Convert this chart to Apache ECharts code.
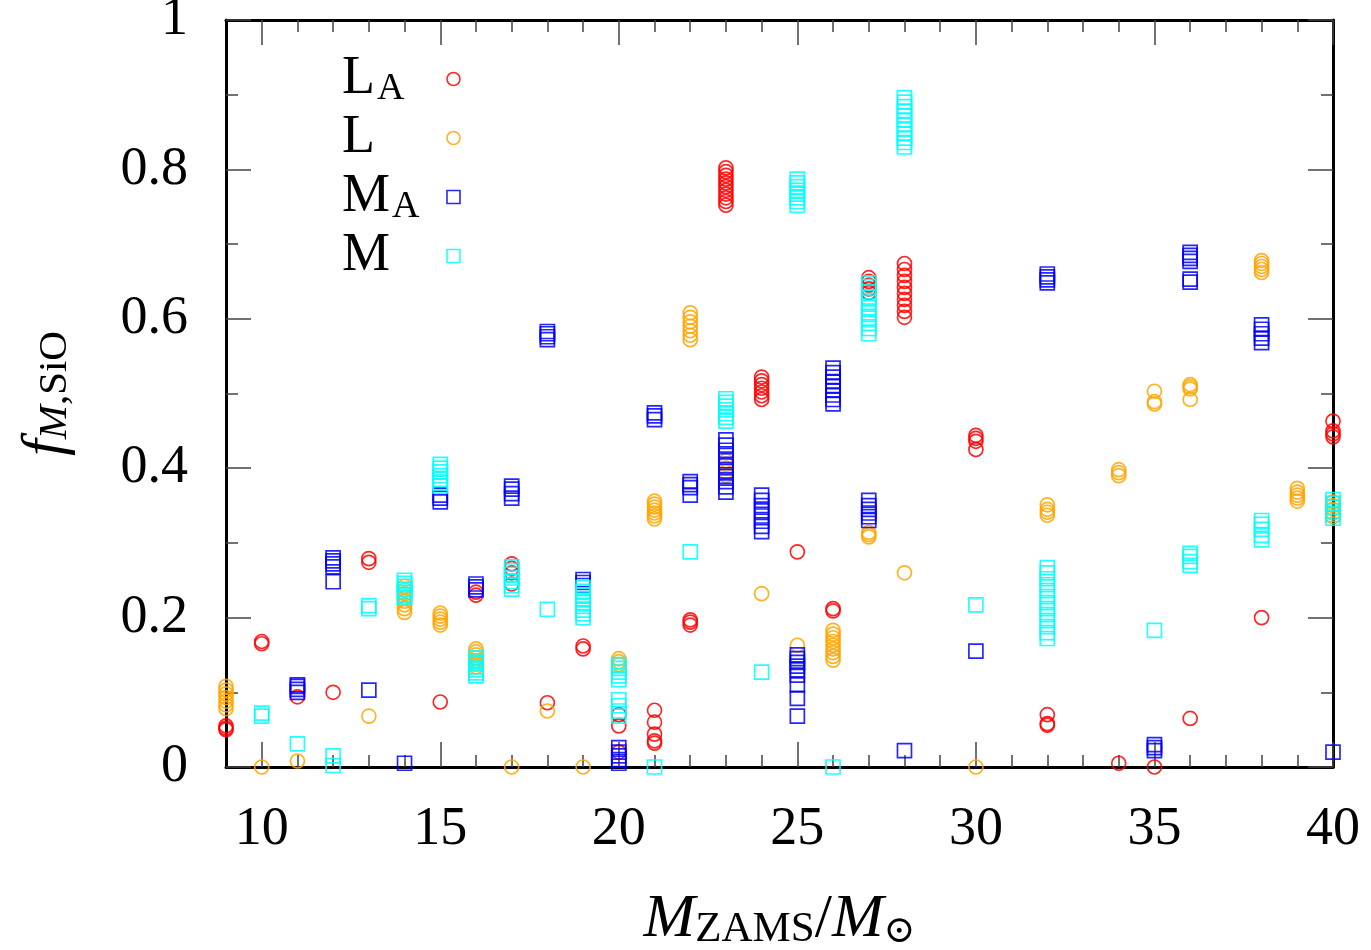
<!DOCTYPE html>
<html><head><meta charset="utf-8">
<script src="https://cdn.jsdelivr.net/npm/echarts@6/dist/echarts.min.js"></script>
<style>html,body{margin:0;padding:0;background:#fff}#c{width:1371px;height:950px}</style>
</head><body><div id="c"></div>
<script>
// Series values: [M_ZAMS, f_M,SiO]
const seriesLA = [
 [9,0.05],[9,0.052],[9,0.055],[10,0.165],[10,0.168],[11,0.094],[12,0.1],[13,0.274],[13,0.279],[15,0.087],
 [16,0.23],[16,0.234],[17,0.245],[17,0.26],[17,0.266],[17,0.272],[18,0.086],[19,0.158],[19,0.162],
 [20,0.02],[20,0.055],[20,0.07],[21,0.032],[21,0.035],[21,0.044],[21,0.06],[21,0.076],
 [22,0.19],[22,0.194],[22,0.197],
 [23,0.752],[23,0.757],[23,0.762],[23,0.767],[23,0.772],[23,0.777],[23,0.782],[23,0.787],[23,0.792],[23,0.797],[23,0.802],
 [24,0.492],[24,0.497],[24,0.502],[24,0.507],[24,0.512],[24,0.517],[24,0.522],
 [25,0.288],[26,0.209],[26,0.212],
 [27,0.635],[27,0.64],[27,0.645],[27,0.65],[27,0.655],
 [28,0.602],[28,0.61],[28,0.618],[28,0.626],[28,0.634],[28,0.642],[28,0.65],[28,0.658],[28,0.666],[28,0.674],
 [30,0.425],[30,0.436],[30,0.44],[30,0.444],[32,0.056],[32,0.058],[32,0.07],[34,0.005],[35,0.0],[36,0.065],[38,0.2],
 [40,0.442],[40,0.446],[40,0.45],[40,0.463]
];
const seriesL = [
 [9,0.078],[9,0.083],[9,0.088],[9,0.093],[9,0.098],[9,0.103],[9,0.108],[10,0.0],[11,0.008],[13,0.068],
 [14,0.207],[14,0.212],[14,0.217],[14,0.222],[14,0.227],[14,0.232],[14,0.237],[14,0.242],
 [15,0.19],[15,0.194],[15,0.198],[15,0.202],[15,0.206],
 [16,0.134],[16,0.138],[16,0.142],[16,0.146],[16,0.15],[16,0.154],[16,0.158],
 [17,0.0],[18,0.075],[19,0.0],[20,0.137],[20,0.141],[20,0.145],
 [21,0.332],[21,0.336],[21,0.34],[21,0.344],[21,0.348],[21,0.352],[21,0.356],
 [22,0.572],[22,0.578],[22,0.584],[22,0.59],[22,0.596],[22,0.602],[22,0.608],
 [23,0.39],[23,0.395],[23,0.4],[23,0.405],[23,0.41],
 [24,0.232],[25,0.163],
 [26,0.143],[26,0.148],[26,0.153],[26,0.158],[26,0.163],[26,0.168],[26,0.173],[26,0.178],[26,0.183],
 [27,0.308],[27,0.311],[27,0.314],[28,0.26],[30,0.0],
 [32,0.337],[32,0.341],[32,0.345],[32,0.351],[34,0.39],[34,0.394],[34,0.398],
 [35,0.486],[35,0.489],[35,0.503],[36,0.492],[36,0.506],[36,0.509],[36,0.512],
 [38,0.662],[38,0.666],[38,0.67],[38,0.674],[38,0.678],
 [39,0.356],[39,0.36],[39,0.364],[39,0.368],[39,0.373],
 [40,0.335],[40,0.34],[40,0.345],[40,0.35],[40,0.355]
];
const seriesMA = [
 [11,0.1],[11,0.104],[11,0.108],[11,0.11],[12,0.268],[12,0.272],[12,0.276],[12,0.28],[12,0.248],[13,0.103],[14,0.005],
 [15,0.355],[15,0.36],[15,0.364],[16,0.237],[16,0.241],[16,0.245],[17,0.36],[17,0.366],[17,0.372],[17,0.376],
 [18,0.572],[18,0.576],[18,0.58],[18,0.583],[19,0.243],[19,0.247],[19,0.251],
 [20,0.005],[20,0.01],[20,0.015],[20,0.02],[20,0.026],[21,0.465],[21,0.47],[21,0.474],
 [22,0.364],[22,0.374],[22,0.378],[22,0.382],
 [23,0.368],[23,0.375],[23,0.382],[23,0.389],[23,0.396],[23,0.403],[23,0.41],[23,0.417],[23,0.424],[23,0.431],[23,0.438],
 [24,0.315],[24,0.322],[24,0.329],[24,0.336],[24,0.343],[24,0.35],[24,0.357],[24,0.364],
 [25,0.068],[25,0.092],[25,0.11],[25,0.123],[25,0.13],[25,0.135],[25,0.14],[25,0.145],[25,0.15],
 [26,0.486],[26,0.492],[26,0.498],[26,0.504],[26,0.51],[26,0.516],[26,0.522],[26,0.528],[26,0.534],
 [27,0.33],[27,0.335],[27,0.34],[27,0.345],[27,0.35],[27,0.357],
 [28,0.022],[30,0.155],[32,0.648],[32,0.652],[32,0.656],[32,0.66],[35,0.022],[35,0.026],[35,0.03],
 [36,0.649],[36,0.653],[36,0.677],[36,0.681],[36,0.685],[36,0.689],
 [38,0.568],[38,0.574],[38,0.58],[38,0.586],[38,0.592],[40,0.02]
];
const seriesM = [
 [10,0.068],[10,0.072],[11,0.031],[12,0.015],[12,0.002],[13,0.212],[13,0.216],
 [14,0.226],[14,0.23],[14,0.234],[14,0.238],[14,0.242],[14,0.246],[14,0.25],
 [15,0.376],[15,0.38],[15,0.385],[15,0.39],[15,0.395],[15,0.4],[15,0.405],
 [16,0.122],[16,0.126],[16,0.13],[16,0.134],[16,0.138],[16,0.142],[16,0.146],
 [17,0.238],[17,0.243],[17,0.248],[17,0.253],[17,0.258],[17,0.263],[17,0.268],[18,0.211],
 [19,0.2],[19,0.205],[19,0.21],[19,0.215],[19,0.22],[19,0.225],[19,0.23],[19,0.235],[19,0.24],
 [20,0.068],[20,0.075],[20,0.082],[20,0.09],[20,0.117],[20,0.122],[20,0.127],[20,0.132],[20,0.137],
 [21,0.0],[22,0.288],
 [23,0.463],[23,0.468],[23,0.473],[23,0.478],[23,0.483],[23,0.488],[23,0.493],[24,0.127],
 [25,0.752],[25,0.757],[25,0.762],[25,0.767],[25,0.772],[25,0.777],[25,0.782],[25,0.787],[26,0.0],
 [27,0.58],[27,0.587],[27,0.594],[27,0.601],[27,0.608],[27,0.615],[27,0.622],[27,0.629],[27,0.636],[27,0.643],[27,0.648],
 [28,0.83],[28,0.836],[28,0.842],[28,0.848],[28,0.854],[28,0.86],[28,0.866],[28,0.872],[28,0.878],[28,0.884],[28,0.89],[28,0.896],
 [30,0.217],
 [32,0.172],[32,0.18],[32,0.188],[32,0.196],[32,0.204],[32,0.212],[32,0.22],[32,0.228],[32,0.236],[32,0.244],[32,0.252],[32,0.26],[32,0.267],
 [35,0.183],[36,0.27],[36,0.275],[36,0.282],[36,0.286],
 [38,0.304],[38,0.31],[38,0.318],[38,0.325],[38,0.33],
 [40,0.333],[40,0.338],[40,0.343],[40,0.348],[40,0.353],[40,0.358]
];
const seriesNames = ['LA','L','MA','M'];
const xMajorTicks = [10,15,20,25,30,35,40];
const xMinorTicks = [11,12,13,14,16,17,18,19,21,22,23,24,26,27,28,29,31,32,33,34,36,37,38,39];

const FONT = 'Liberation Serif';
const colors = {LA:'#ff0000', L:'#ffa500', MA:'#0000ff', M:'#00ffff'};
const symbols = {LA:'circle', L:'circle', MA:'rect', M:'rect'};
const dataMap = {LA:seriesLA, L:seriesL, MA:seriesMA, M:seriesM};
const legendText = {LA:'{L|L}{sL|A}', L:'{L|L}{eL| }', MA:'{M|M}{sM|A}', M:'{M|M}{eM| }'};

function xAxisDef(pos, ticks, len, showLabel, showLine){
  return {
    type:'value', min:9, max:40, position:pos,
    axisLine:{show:showLine, lineStyle:{color:'#000', width:3}},
    axisTick:{show:true, inside:true, length:len, customValues:ticks, lineStyle:{color:'#444', width:1.5}},
    axisLabel:{show:showLabel, customValues:ticks, fontFamily:FONT, fontSize:54, color:'#000', margin:36},
    splitLine:{show:false}
  };
}
function yAxisDef(pos, showLabel){
  return {
    type:'value', min:0, max:1, interval:0.2, position:pos,
    axisLine:{show:true, onZero:false, lineStyle:{color:'#000', width:3}},
    axisTick:{show:true, inside:true, length:25, lineStyle:{color:'#444', width:1.5}},
    minorTick:{show:true, splitNumber:2, length:12, lineStyle:{color:'#444', width:1.5}},
    axisLabel:{show:showLabel, fontFamily:FONT, fontSize:54, color:'#000', margin:38},
    splitLine:{show:false}
  };
}

const xAxes = [
  xAxisDef('bottom', xMajorTicks, 25, true, true),
  xAxisDef('bottom', xMinorTicks, 12, false, false),
  xAxisDef('top', xMajorTicks, 25, false, true),
  xAxisDef('top', xMinorTicks, 12, false, false)
];
Object.assign(xAxes[0], {
  name:'{m|M}{s|ZAMS}{n|/}{m|M}{o|⊙}', nameLocation:'middle', nameGap:122,
  nameTextStyle:{fontFamily:FONT, color:'#000', rich:{
    m:{fontFamily:FONT, fontStyle:'italic', fontSize:62, lineHeight:62, verticalAlign:'middle'},
    n:{fontFamily:FONT, fontSize:62, lineHeight:62, verticalAlign:'middle'},
    s:{fontFamily:FONT, fontSize:43, lineHeight:10, verticalAlign:'bottom'},
    o:{fontFamily:'DejaVu Serif', fontSize:38, lineHeight:10, verticalAlign:'bottom'}
  }}
});
const yAxes = [yAxisDef('left', true), yAxisDef('right', false)];
Object.assign(yAxes[0], {
  name:'{f|f}{s|M}{t|,SiO}', nameLocation:'middle', nameGap:150, nameRotate:90,
  nameTextStyle:{fontFamily:FONT, color:'#000', rich:{
    f:{fontFamily:FONT, fontStyle:'italic', fontSize:60, lineHeight:60, verticalAlign:'middle'},
    s:{fontFamily:FONT, fontStyle:'italic', fontSize:41, lineHeight:10, verticalAlign:'bottom'},
    t:{fontFamily:FONT, fontSize:41, lineHeight:10, verticalAlign:'bottom'}
  }}
});

const series = seriesNames.map(n => ({
  name:n, type:'scatter', xAxisIndex:0, yAxisIndex:0,
  symbol:symbols[n], symbolSize:14, data:dataMap[n],
  itemStyle:{color:'rgba(0,0,0,0)', borderColor:colors[n], borderWidth:1.7, opacity:0.85},
  emphasis:{disabled:true}, clip:false
}));

const sub = {fontFamily:FONT, fontSize:38, lineHeight:2, verticalAlign:'bottom', align:'left'};
const chart = echarts.init(document.getElementById('c'), null, {renderer:'canvas'});
chart.setOption({
  animation:false,
  backgroundColor:'#fff',
  grid:{left:226, right:38, top:20, bottom:183, outerBoundsMode:'none', containLabel:false},
  xAxis:xAxes, yAxis:yAxes,
  legend:{
    data:seriesNames.map(n => ({name:n, icon:symbols[n] === 'circle' ? 'circle' : 'rect',
      itemStyle:{color:'rgba(0,0,0,0)', borderColor:colors[n], borderWidth:1.6}})),
    orient:'vertical', left:342, top:52, padding:0, align:'right', itemGap:3, itemWidth:13, itemHeight:13,
    selectedMode:false,
    formatter: n => legendText[n],
    textStyle:{fontFamily:FONT, color:'#000', rich:{
      L:{fontFamily:FONT, fontSize:54, lineHeight:58, verticalAlign:'middle', width:35, align:'left'},
      M:{fontFamily:FONT, fontSize:54, lineHeight:58, verticalAlign:'middle', width:50, align:'left'},
      sL:Object.assign({width:65}, sub),
      sM:Object.assign({width:50}, sub),
      eL:Object.assign({width:65}, sub),
      eM:Object.assign({width:50}, sub)
    }}
  },
  series:series
});
</script></body></html>
